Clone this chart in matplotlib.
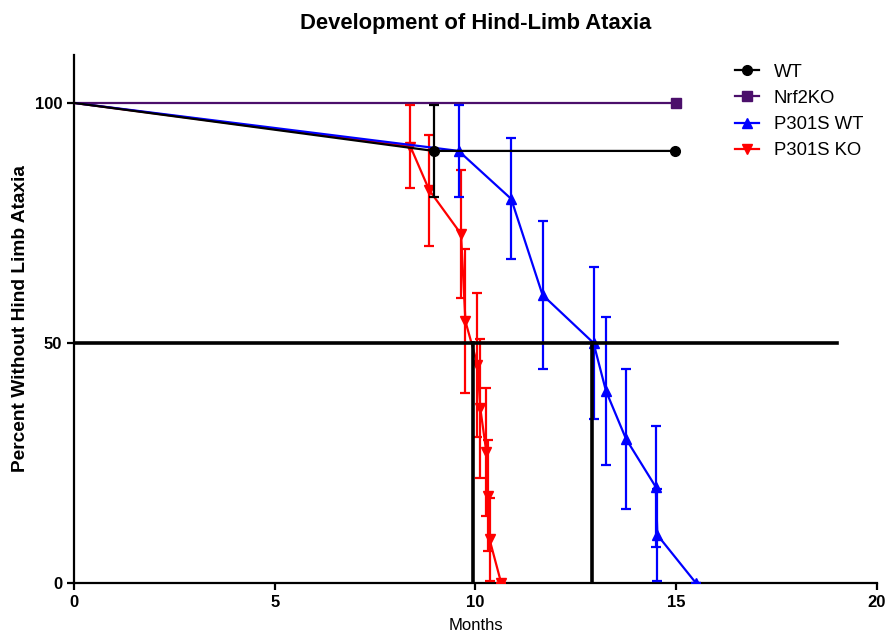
import matplotlib
matplotlib.use("Agg")
import matplotlib.pyplot as plt
from matplotlib.lines import Line2D

plt.rcParams['font.family'] = ['Liberation Sans', 'DejaVu Sans']

# Months / percent without ataxia / SE for each group
wt_x = [0, 8.96, 14.98]
wt_y = [100, 90, 90]
wt_err = [0, 9.5, 0]

nrf_x = [0, 15]
nrf_y = [100, 100]
nrf_err = [0, 0]

p301s_wt_x = [0, 9.58, 10.89, 11.67, 12.94, 13.25, 13.75, 14.49, 14.53, 15.49]
p301s_wt_y = [100, 90, 80, 60, 50, 40, 30, 20, 10, 0]
p301s_wt_err = [0, 9.5, 12.6, 15.5, 15.8, 15.5, 14.5, 12.6, 9.5, 0]

p301s_ko_x = [0, 8.38, 8.85, 9.64, 9.75, 10.05, 10.12, 10.27, 10.3, 10.35, 10.64]
p301s_ko_y = [100, 90.9, 81.8, 72.7, 54.5, 45.5, 36.4, 27.3, 18.2, 9.1, 0]
p301s_ko_err = [0, 8.7, 11.6, 13.4, 15.0, 15.0, 14.5, 13.4, 11.6, 8.7, 0]

labels = ['WT', 'Nrf2KO', 'P301S WT', 'P301S KO']
colors = ['black', '#4b0f6b', '#0000ff', '#ff0000']
markers = ['o', 's', '^', 'v']
msizes = [7, 6.5, 6.5, 6.5]

median_y = 50
median_x = [9.95, 12.9]

fig = plt.figure(figsize=(8.89, 6.37), dpi=100)
ax = fig.add_axes([0.0832, 0.0848, 0.9033, 0.829])

series = [(wt_x, wt_y, wt_err), (nrf_x, nrf_y, nrf_err),
          (p301s_wt_x, p301s_wt_y, p301s_wt_err), (p301s_ko_x, p301s_ko_y, p301s_ko_err)]
handles = []
zs = [5, 3, 4, 3.5]
for (x, y, e), c, m, ms, lab, z in zip(series, colors, markers, msizes, labels, zs):
    ax.plot(x, y, color=c, lw=1.6, zorder=z)
    # no marker at time 0
    errs = e[1:] if any(e[1:]) else None
    ax.errorbar(x[1:], y[1:], yerr=errs, fmt=m, color=c, markersize=ms,
                capsize=3.5, elinewidth=1.6, capthick=1.6, zorder=z)
    handles.append(Line2D([], [], color=c, marker=m, markersize=ms, lw=1.6))

# median reference lines
ax.plot([0, 19], [median_y, median_y], color='black', lw=2.6, zorder=6)
for mx in median_x:
    ax.plot([mx, mx], [0, median_y], color='black', lw=2.6, zorder=6)

ax.set_xlim(0, 20)
ax.set_ylim(0, 110)
ax.set_xticks([0, 5, 10, 15, 20])
ax.set_yticks([0, 50, 100])
for s in ['top', 'right']:
    ax.spines[s].set_visible(False)
for s in ['left', 'bottom']:
    ax.spines[s].set_linewidth(1.6)
ax.tick_params(width=1.6, length=5, labelsize=12)
for lab in ax.get_xticklabels() + ax.get_yticklabels():
    lab.set_fontweight('bold')

ax.set_xlabel('Months', fontsize=12, labelpad=6)
ax.set_ylabel('Percent Without Hind Limb Ataxia', fontsize=13.8, fontweight='bold', labelpad=4)
ax.set_title('Development of Hind-Limb Ataxia', fontsize=15.8, fontweight='bold', pad=19)

fig.legend(handles, labels, loc='upper left', bbox_to_anchor=(0.8268, 0.9),
           frameon=False, fontsize=13.3, handlelength=1.3, handletextpad=0.8,
           labelspacing=0.5, borderpad=0, borderaxespad=0)

fig.savefig('out.png', dpi=100)
